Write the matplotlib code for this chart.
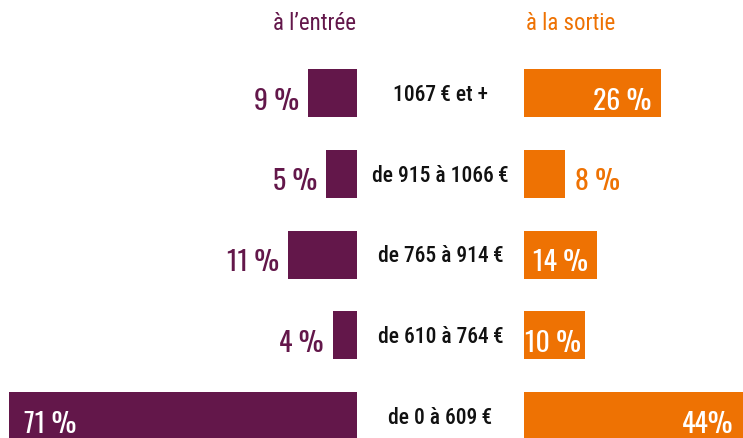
import matplotlib
matplotlib.use("Agg")
import matplotlib.pyplot as plt
from matplotlib import font_manager
import matplotlib.transforms as mtransforms

# ---- data ----
categories = ["1067\u2009€ et +", "de 915 à 1066\u2009€", "de 765 à 914\u2009€",
              "de 610 à 764\u2009€", "de 0 à 609\u2009€"]
entree_labels = ["9 %", "5 %", "11 %", "4 %", "71 %"]
sortie_labels = ["26 %", "8 %", "14 %", "10 %", "44%"]
# bar lengths as drawn in the picture (percent units)
entree_bars = [9.9, 6.3, 14.1, 4.9, 71.0]
sortie_bars = [28.0, 8.4, 14.9, 12.4, 44.7]
header_left = "à l\u2019entrée"
header_right = "à la sortie"

# ---- style ----
PURPLE = "#63174A"
ORANGE = "#EE7203"
names = {f.name for f in font_manager.fontManager.ttflist}


def pick(options):
    for cand in options:
        if cand in names:
            return cand
    return "DejaVu Sans"


value_font = pick(["Oswald", "Roboto Condensed", "Barlow Condensed", "Archivo Narrow"])
label_font = pick(["Roboto Condensed", "Barlow Condensed", "Oswald", "Archivo Narrow"])
VFAM = [value_font, "DejaVu Sans"]
LFAM = [label_font, "DejaVu Sans"]
plt.rcParams["font.family"] = VFAM

W, H, DPI = 743, 438, 100
PXU = 4.9  # px per percent unit
fig = plt.figure(figsize=(W / DPI, H / DPI), dpi=DPI)

row0, step = 93.0, 80.75
ytop = -row0 / step
ybot = (H - row0) / step
bh = 48 / step

axL = fig.add_axes([0, 0, 357 / W, 1])
axR = fig.add_axes([524 / W, 0, 219 / W, 1])
axL.set_xlim(357 / PXU, 0)
axR.set_xlim(0, 219 / PXU)
for ax in (axL, axR):
    ax.set_ylim(ybot, ytop)
    ax.axis("off")

ys = list(range(len(categories)))
axL.barh(ys, entree_bars, height=bh, color=PURPLE)
axR.barh(ys, sortie_bars, height=bh, color=ORANGE)

VSIZE = 20
CSIZE = 15.5
HSIZE = 16.5
VW = 300
CW = 500
BASE_OFF = -16.5

# left value labels: outside except the big one (inside, at the far end)
for y, v, lab in zip(ys, entree_bars, entree_labels):
    if v > 40:
        axL.annotate(lab, (v, y), xytext=(15, BASE_OFF), textcoords="offset pixels",
                     ha="left", va="baseline", color="white", fontsize=VSIZE,
                     fontweight=VW, family=VFAM, annotation_clip=False)
    else:
        axL.annotate(lab, (v, y), xytext=(-9, BASE_OFF), textcoords="offset pixels",
                     ha="right", va="baseline", color=PURPLE, fontsize=VSIZE,
                     fontweight=VW, family=VFAM, annotation_clip=False)

# right value labels
right_inside_off = [-10, None, -9, -4, -10]
for y, v, lab, off in zip(ys, sortie_bars, sortie_labels, right_inside_off):
    if off is None:
        axR.annotate(lab, (v, y), xytext=(10, BASE_OFF), textcoords="offset pixels",
                     ha="left", va="baseline", color=ORANGE, fontsize=VSIZE,
                     fontweight=VW, family=VFAM, annotation_clip=False)
    else:
        axR.annotate(lab, (v, y), xytext=(off, BASE_OFF), textcoords="offset pixels",
                     ha="right", va="baseline", color="white", fontsize=VSIZE,
                     fontweight=VW, family=VFAM, annotation_clip=False)

# category labels in the middle
trans = mtransforms.blended_transform_factory(fig.transFigure, axL.transData)
for y, cat in zip(ys, categories):
    axL.annotate(cat, (440.5 / W, y), xycoords=trans, xytext=(0, -8),
                 textcoords="offset pixels", ha="center", va="baseline",
                 color="#111111", fontsize=CSIZE, fontweight=CW, family=LFAM,
                 annotation_clip=False)

# headers
fig.text(356 / W, 1 - 30 / H, header_left, ha="right", va="baseline",
         color=PURPLE, fontsize=HSIZE, fontweight=400, family=LFAM)
fig.text(526 / W, 1 - 30 / H, header_right, ha="left", va="baseline",
         color=ORANGE, fontsize=HSIZE, fontweight=400, family=LFAM)

fig.savefig("out.png", dpi=DPI)
